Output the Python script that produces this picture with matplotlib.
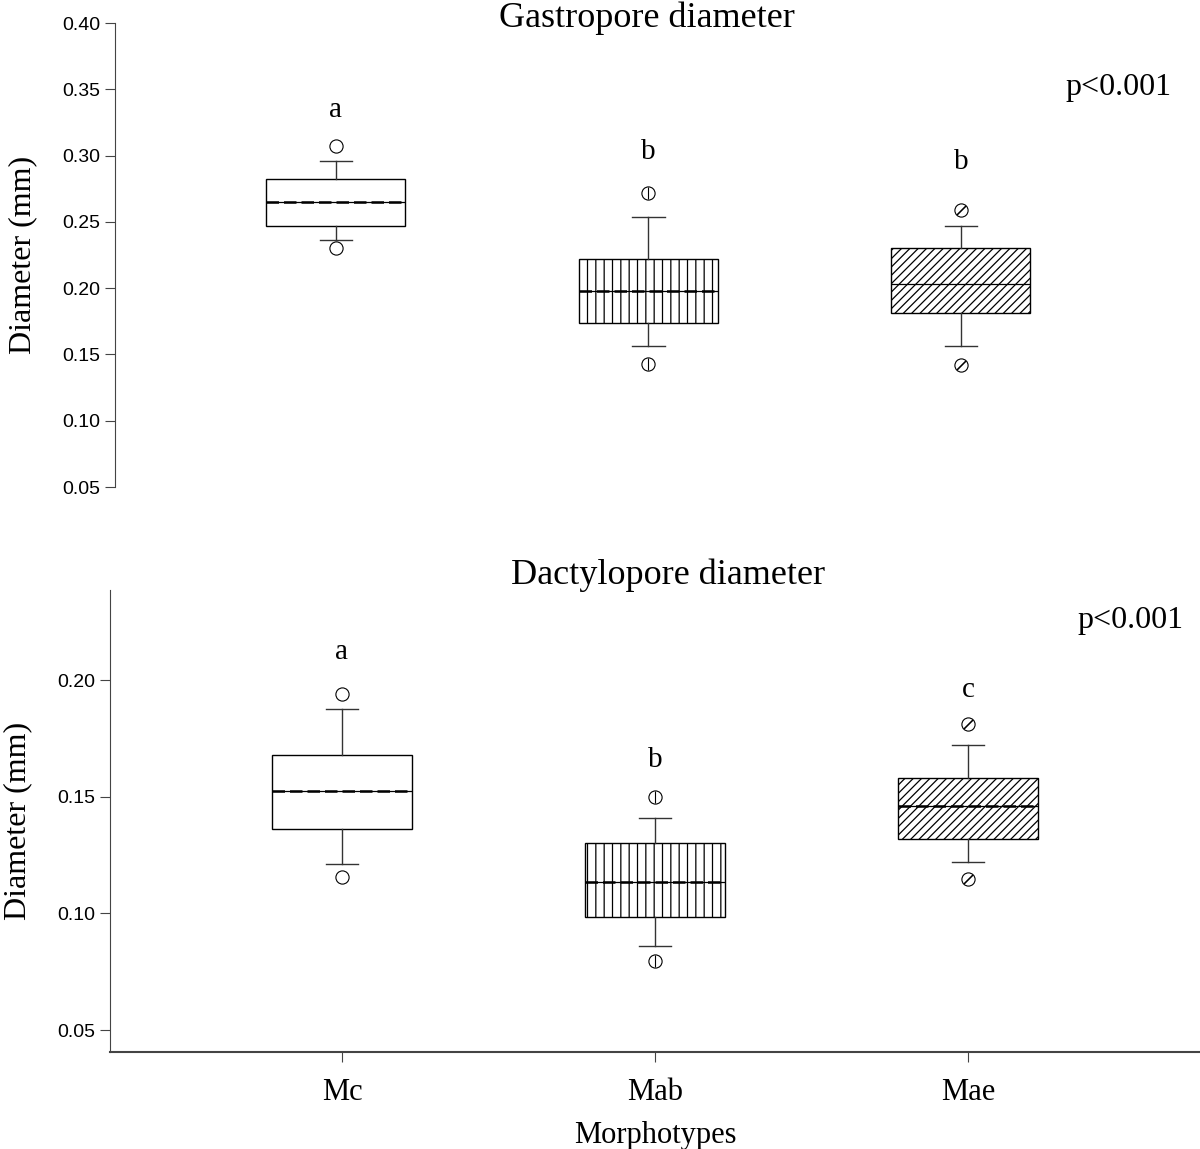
import matplotlib.pyplot as plt
import numpy as np

plt.rcParams['hatch.linewidth'] = 0.9

groups = ['Mc', 'Mab', 'Mae']
hatches = ['', '||', '////']

# gastropore diameter (mm)
gas_whislo = [0.236, 0.156, 0.156]
gas_q1 = [0.247, 0.174, 0.181]
gas_med = [0.265, 0.198, 0.203]
gas_mean = [0.265, 0.198, np.nan]
gas_q3 = [0.282, 0.222, 0.230]
gas_whishi = [0.296, 0.254, 0.247]
gas_out = [[0.230, 0.307], [0.143, 0.272], [0.142, 0.259]]
gas_letters = ['a', 'b', 'b']
gas_letter_y = [0.334, 0.303, 0.295]

# dactylopore diameter (mm)
dac_whislo = [0.121, 0.086, 0.122]
dac_q1 = [0.136, 0.0985, 0.132]
dac_med = [0.1525, 0.1135, 0.146]
dac_mean = [0.1525, 0.1135, 0.146]
dac_q3 = [0.168, 0.130, 0.158]
dac_whishi = [0.1876, 0.141, 0.172]
dac_out = [[0.1156, 0.194], [0.0796, 0.150], [0.1147, 0.181]]
dac_letters = ['a', 'b', 'c']
dac_letter_y = [0.212, 0.1657, 0.1957]

serif = 'Liberation Serif'
sans = 'Liberation Sans'
grey = '#444444'


def draw(ax, whislo, q1, med, mean, q3, whishi, out, letters, letter_y):
    for i in range(3):
        st = dict(whislo=whislo[i], q1=q1[i], med=med[i], q3=q3[i],
                  whishi=whishi[i], fliers=out[i], mean=mean[i])
        has_mean = not np.isnan(mean[i])
        ax.bxp([st], positions=[i + 1], widths=0.445, capwidths=0.105,
               patch_artist=True, showmeans=has_mean, meanline=True,
               boxprops=dict(facecolor='white', edgecolor='black', linewidth=1.0,
                             hatch=hatches[i]),
               medianprops=dict(color='black', linewidth=0.9),
               meanprops=dict(color='black', linewidth=1.8, linestyle=(0, (5, 2))),
               whiskerprops=dict(color='#333333', linewidth=1.0),
               capprops=dict(color='#333333', linewidth=1.0),
               flierprops=dict(marker='o', markersize=9.5, markerfacecolor='white',
                               markeredgecolor='black', markeredgewidth=0.8,
                               linestyle='none'),
               manage_ticks=False)
        # inner symbol of the outlier circles
        if hatches[i] == '||':
            ax.plot([i + 1] * len(out[i]), out[i], ls='none', marker='|',
                    ms=9, mew=0.8, color='black')
        elif hatches[i] == '////':
            ax.plot([i + 1] * len(out[i]), out[i], ls='none', marker=(2, 2, -45),
                    ms=9, mew=0.8, color='black')
        ax.text(i + 1, letter_y[i], letters[i], ha='center', va='center',
                fontsize=21, family=serif)


fig = plt.figure(figsize=(12, 11.49), dpi=100)

# top panel
ax1 = fig.add_axes([115 / 1200, 1 - 487 / 1149, 1085 / 1200, 464 / 1149])
draw(ax1, gas_whislo, gas_q1, gas_med, gas_mean, gas_q3, gas_whishi, gas_out,
     gas_letters, gas_letter_y)
ax1.set_xlim(0.293, 3.765)
ax1.set_ylim(0.05, 0.40)
ax1.set_yticks(np.arange(0.05, 0.401, 0.05))
ax1.yaxis.set_major_formatter(plt.FormatStrFormatter('%.2f'))
for s in ['top', 'right', 'bottom']:
    ax1.spines[s].set_visible(False)
ax1.spines['left'].set_color(grey)
ax1.set_xticks([])
ax1.tick_params(axis='y', direction='out', length=7, color=grey, labelsize=14)
for lab in ax1.get_yticklabels():
    lab.set_family(sans)
ax1.set_ylabel('Diameter (mm)', family=serif, fontsize=23, labelpad=18)
ax1.text(0.925, 0.86, 'p<0.001', transform=ax1.transAxes, ha='center', va='center',
         fontsize=23, family=serif)

# bottom panel
ax2 = fig.add_axes([110 / 1200, 1 - 1052 / 1149, 1090 / 1200, 462 / 1149])
draw(ax2, dac_whislo, dac_q1, dac_med, dac_mean, dac_q3, dac_whishi, dac_out,
     dac_letters, dac_letter_y)
ax2.set_xlim(0.259, 3.741)
ax2.set_ylim(0.0406, 0.2386)
ax2.set_yticks([0.05, 0.10, 0.15, 0.20])
ax2.yaxis.set_major_formatter(plt.FormatStrFormatter('%.2f'))
ax2.set_xticks([1, 2, 3])
ax2.set_xticklabels(groups, family=serif, fontsize=22)
for s in ['top', 'right']:
    ax2.spines[s].set_visible(False)
ax2.spines['left'].set_color(grey)
ax2.spines['bottom'].set_color(grey)
ax2.spines['bottom'].set_linewidth(1.5)
ax2.tick_params(axis='both', direction='out', length=7, color=grey)
ax2.tick_params(axis='y', labelsize=14)
ax2.tick_params(axis='x', pad=12)
for lab in ax2.get_yticklabels():
    lab.set_family(sans)
ax2.set_ylabel('Diameter (mm)', family=serif, fontsize=23, labelpad=18)
ax2.set_xlabel('Morphotypes', family=serif, fontsize=22, labelpad=10)
ax2.text(0.936, 0.935, 'p<0.001', transform=ax2.transAxes, ha='center', va='center',
         fontsize=23, family=serif)

fig.text(647 / 1200, 1 - 18 / 1149, 'Gastropore diameter', ha='center', va='center',
         fontsize=26, family=serif)
fig.text(668 / 1200, 1 - 575 / 1149, 'Dactylopore diameter', ha='center', va='center',
         fontsize=26, family=serif)

fig.savefig('out.png', dpi=100)
